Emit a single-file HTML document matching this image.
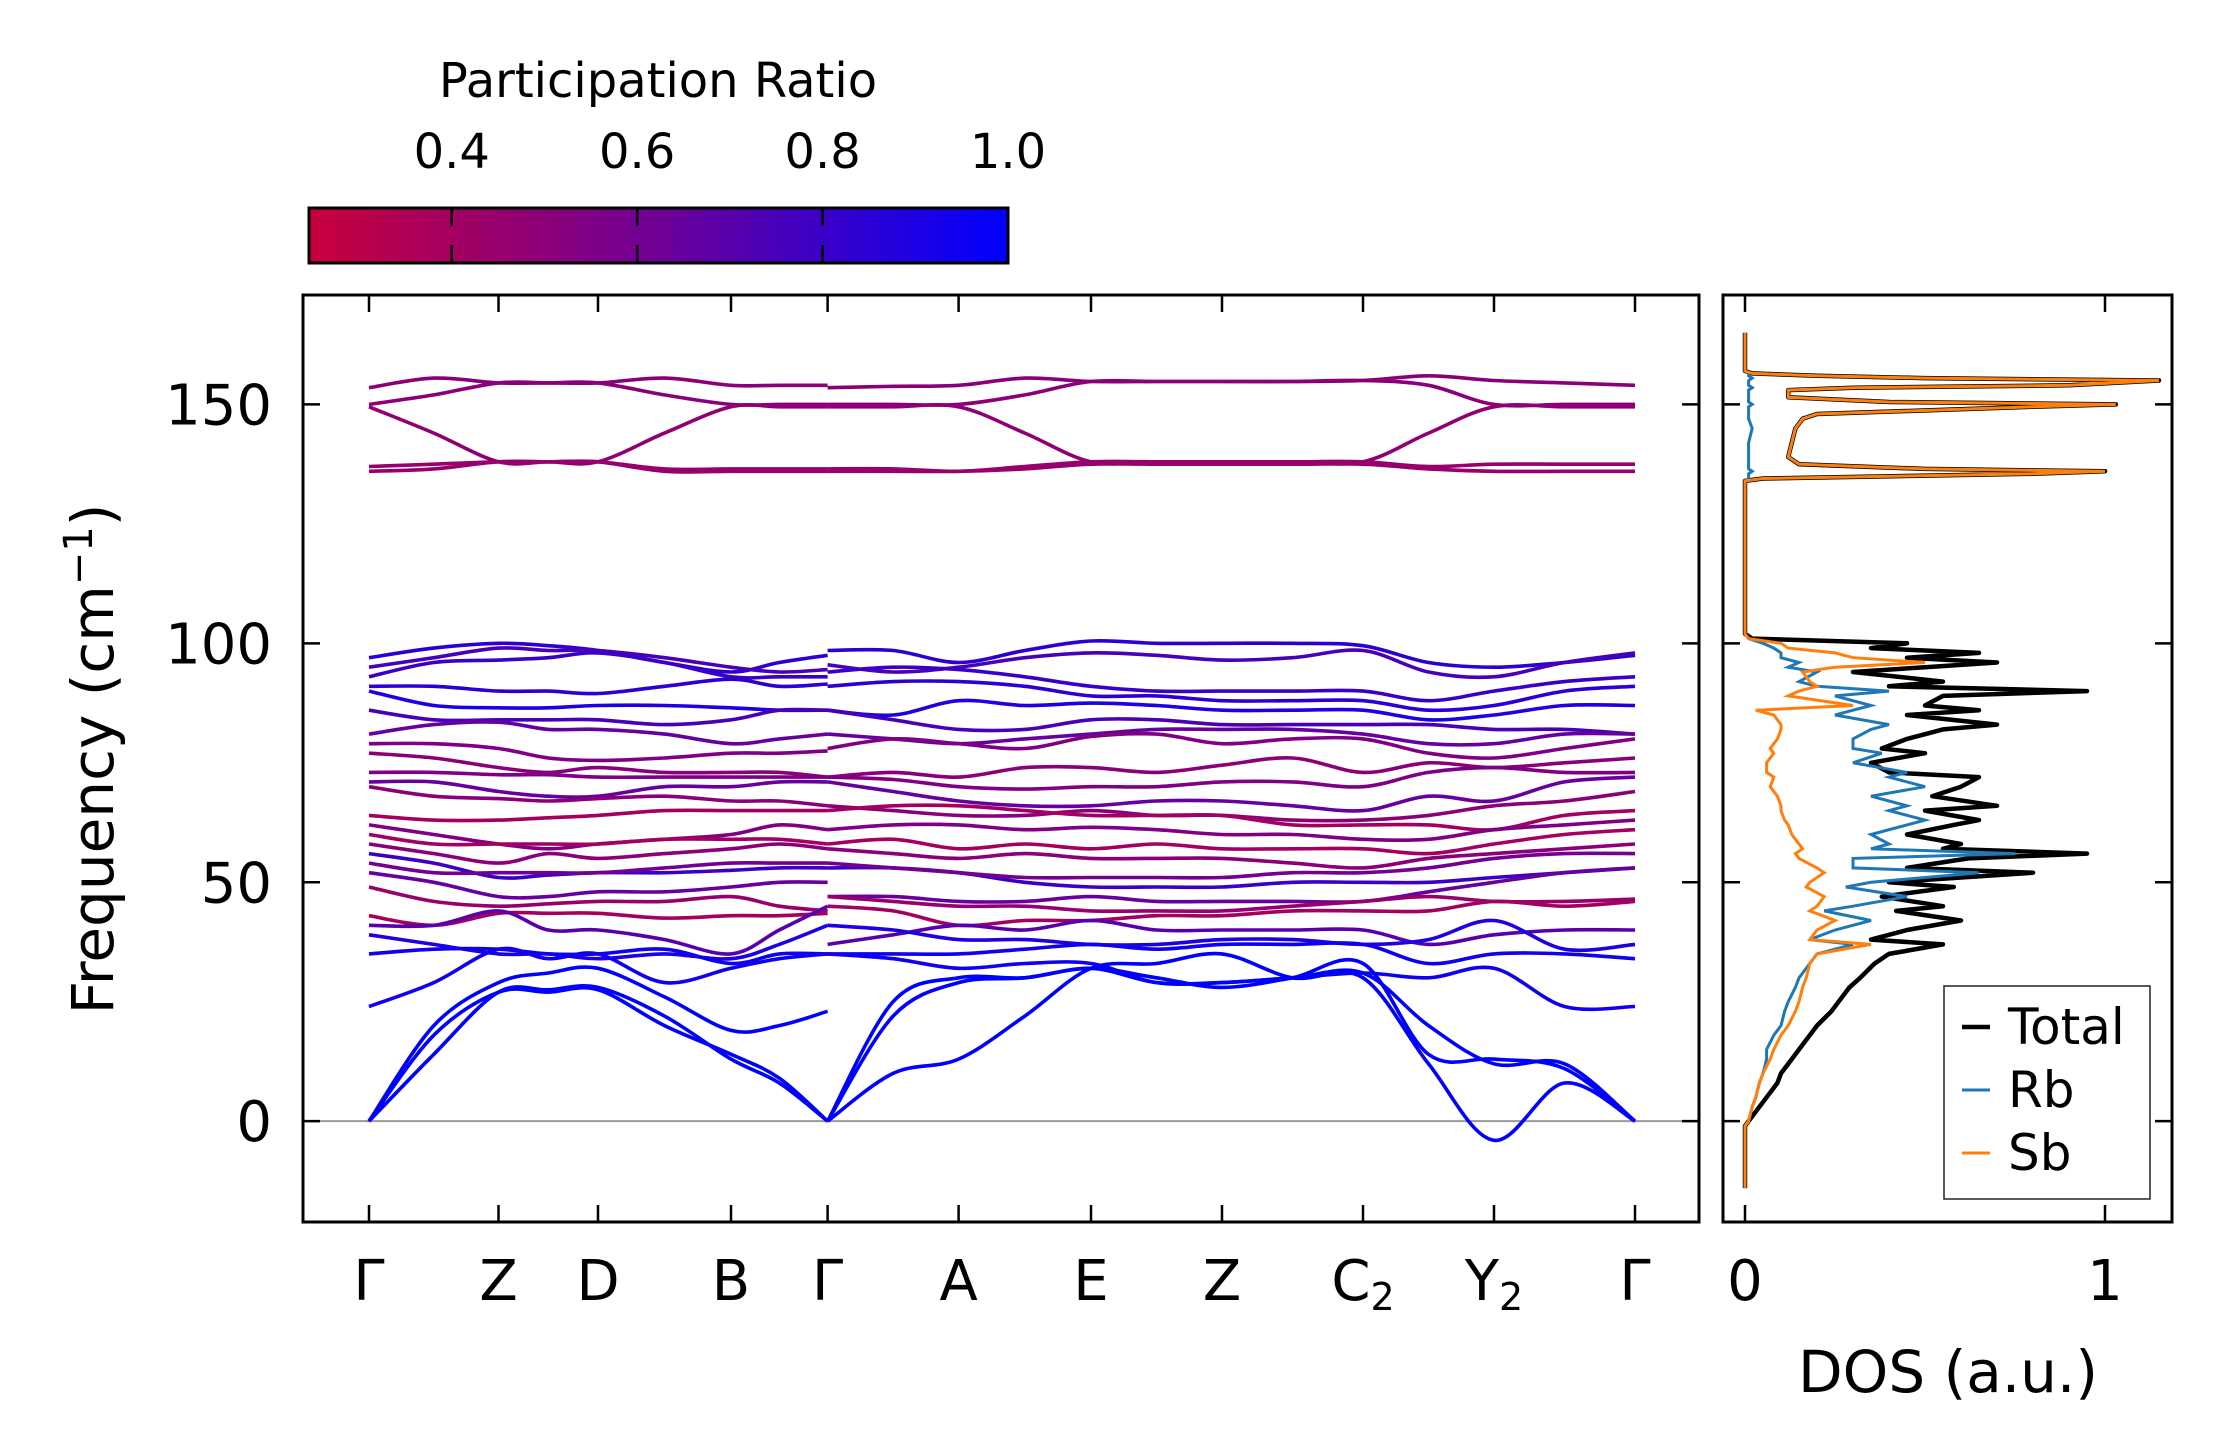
<!DOCTYPE html>
<html><head><meta charset="utf-8">
<style>
html,body{margin:0;padding:0;background:#fff;}
svg{display:block;font-family:"DejaVu Sans","Liberation Sans",sans-serif;}
</style></head>
<body>
<svg id="fig" width="2222" height="1455" viewBox="0 0 2222 1455" xmlns="http://www.w3.org/2000/svg">
<defs>
<linearGradient id="cbgrad" x1="0" x2="1" y1="0" y2="0">
<stop offset="0" stop-color="rgb(200,0,60)"/>
<stop offset="0.5" stop-color="rgb(110,0,150)"/>
<stop offset="1" stop-color="rgb(0,0,255)"/>
</linearGradient>
<clipPath id="mainclip"><rect x="303" y="295" width="1396" height="927"/></clipPath>
<clipPath id="dosclip"><rect x="1723" y="295" width="449" height="927"/></clipPath>
</defs>
<g id="colorbar">
<text x="658" y="97" font-size="48" text-anchor="middle">Participation Ratio</text>
<rect x="309" y="208" width="699" height="55" fill="url(#cbgrad)" stroke="#000" stroke-width="3"/>
</g>
<g id="main"></g>
<g id="dos"></g>
</svg>
<script>
// ---------- Colorbar data ----------
const cbTicks = [0.4, 0.6, 0.8, 1.0];
const cbMin = 0.246, cbMax = 1.0;
// ---------- Band structure data ----------
const kLabels = ["Γ","Z","D","B","Γ","A","E","Z","C₂","Y₂","Γ"];
const kTicks = [0, 1.295, 2.29, 3.62, 4.586, 5.896, 7.22, 8.53, 9.94, 11.25, 12.66];
const yTicks = [0, 50, 100, 150];
const bandSeg1 = [
[153.5,155.5,154.5,154.5,154.5,155.5,154,154,154],
[150,152,154.5,154.5,154.5,152,150,150,150],
[149.5,144,138,138,138,144,149.5,149.5,149.5],
[137,137.5,138,138,138,136.5,136.5,136.5,136.5],
[136,136.5,138,138,138,136,136,136,136],
[97,99,100,99.5,98.5,96,94,96,97.5],
[95,97,99,98.5,98.5,97,95,94,94.5],
[93,96,96.5,97,98,96,93,93,93],
[91,91,90,90,89.5,91,92.5,91,91.5],
[90,87,86.5,86.5,87,87,86.5,86,86],
[86,84,84,84,84,83,84,86,86],
[81,83,83.5,82,82,81,79,80,81],
[79,79,78,76,75.5,76,77,77,77.5],
[77,76,74,73,74,73,73,73,72],
[73,73,72.5,72.5,72,72,72,72,72],
[71,71,69,68,68,70,70,71,71],
[70,68,67.5,67,67.5,68,67,67,66],
[64,63,63,63.5,64,65,65,65,65],
[62,60,58,57,58,59,60,62,61],
[60,58,58,58,58,59,59,59,58],
[58,56,54,56,55,56,57,58,57],
[56,54,51,51.5,52,52,52.5,53,53],
[54,52,52,52,52,53,54,54,54],
[52,50,47,47,48,48,49,50,50],
[49,46,45,45.5,46,46,47,45,44],
[43,41,43.5,43.5,43.5,42.5,43,43,43.5],
[41,41,44,40,40,38,35,40,45],
[39,37,35,35,34,35,34,37,41],
[35,36,36,35,35,36,33,35,35],
[24,29,36,34,35,29,32,34,35],
[0,20,29,31,32,26,19,20,23],
[0,18,27,27,27.5,20,14,9,0],
[0,14,27,27.5,28,22,13,8,0]
];
const bandSeg2 = [
[153.5,153.8,154,155.5,154.8,154.8,154.8,154.8,155,156,155,154.5,154],
[150,150,150,152,154.8,154.8,154.8,154.8,155,154,150,150,150],
[149.5,149.5,149.5,144,138,138,138,138,138,144,149.5,149.5,149.5],
[136.5,136.5,136,137,138,138,138,138,138,137,137.5,137.5,137.5],
[136,136,136,136.5,137.5,137.5,137.5,137.5,137.5,136.5,136,136,136],
[98.5,98.5,96,98.5,100.5,100,100,100,99.5,96,95,96,97.5],
[95.5,94,95,97,98,97.5,96.5,97,98.5,94,93,96,98],
[94,95,94.5,93,91,90,90,90,90,88,90,92,93],
[91,92,92,91,89,89,88,88,88,86,87,90,91],
[86,85,88,87,87.5,87,86,86,86,84,85,87,87],
[86,84,82,82,84,84,83,83,83,83,82,82,81],
[81,80,79,80,81,82,82,82,81,79,79,81,81],
[78,80,79,78,80.5,81,79,80,80,77,76,78,80],
[72,73,72,74,74,73,74.5,76,73,75,74,75,76],
[72,71.5,70,69.5,70,70,71,71,70,73,74,73,73],
[71,69,67,66,66,67,67,66,65,68,67,71,72],
[66,65,64,64,65,64,64,63,63,64,66,67,69],
[65,66,66,65,64,64,64,62,62,62,61,64,65],
[61,62,62,61,61.5,61,60,60,59,59,61,62,63],
[58,59,57,58,57,58,57,57,57,56,58,60,61],
[57,56,55,56,55,55,55,54,53,55,56,57,58],
[53,53,52,50,49,49,49,50,50,50,51,52,53],
[54,53,52,51,51,51,51,52,52,53,55,56,56],
[47,47,46,46,47,46,46,46,46,48,50,52,53],
[47,46,45,45,44,44,44,45,46,47,46,46,46.5],
[45,44,41,42,42,43,43,44,44,44,46,45,46],
[37,39,41,40,42,40,40,40,40,37,39,40,40],
[41,40,38,38,37,37,38,38,37,38,42,36,37],
[35,35,35,36,37,36,37,37,37,33,35,35,34],
[35,34,32,33,33,29,29,30,31,30,32,24,24],
[0,25,30,30,32,29,29,30,31,20,12,12,0],
[0,10,13,22,32,33,35,30,30,12,-4,8,0],
[0,22,29,30,32,30,28,30,33,14,13,11,0]
];
const bandPR = [0.5,0.5,0.48,0.45,0.45,0.85,0.75,0.8,0.85,0.9,0.75,0.65,0.55,0.5,0.55,0.65,0.5,0.4,0.55,0.4,0.5,0.8,0.6,0.65,0.45,0.4,0.7,0.9,0.95,0.95,1,1,1];
// ---------- DOS data ----------
const dosFreq = [-14,-1,0,3,5,8,10,13,15,18,20,23,25,28,30,33,35,37,38,40,42,44,45,47,49,50,52,53,55,56,57,58,60,62,63,65,66,68,70,72,73,75,77,78,80,82,83,85,86,87,89,90,91,92,94,95,96,97,98,99,100,101,102,134,134.5,135.5,136,136.5,137.5,139,142,145,147,148,149.5,150,150.5,151.5,153,153.5,154,155,155.5,156,156.5,157,165];
const dosTotal = [0,0,0.01,0.04,0.06,0.09,0.1,0.13,0.15,0.18,0.2,0.24,0.26,0.29,0.32,0.36,0.4,0.55,0.35,0.45,0.6,0.42,0.55,0.38,0.58,0.4,0.8,0.45,0.62,0.95,0.55,0.6,0.45,0.58,0.65,0.5,0.7,0.52,0.6,0.65,0.4,0.35,0.5,0.38,0.45,0.55,0.7,0.45,0.65,0.5,0.55,0.95,0.4,0.55,0.3,0.5,0.7,0.45,0.65,0.35,0.45,0.02,0,0,0.05,0.8,1.0,0.5,0.15,0.12,0.13,0.14,0.16,0.2,0.8,1.03,0.4,0.12,0.12,0.3,0.9,1.15,0.5,0.2,0.02,0,0];
const dosRb = [0,0,0.01,0.02,0.03,0.04,0.05,0.06,0.06,0.08,0.1,0.11,0.12,0.14,0.15,0.18,0.2,0.3,0.18,0.25,0.35,0.22,0.3,0.45,0.28,0.35,0.65,0.3,0.3,0.75,0.35,0.4,0.35,0.45,0.5,0.4,0.45,0.35,0.5,0.4,0.45,0.3,0.38,0.3,0.3,0.35,0.4,0.25,0.3,0.35,0.25,0.4,0.2,0.15,0.2,0.12,0.15,0.1,0.1,0.08,0.05,0.01,0,0,0.01,0.01,0.02,0.01,0.01,0.01,0.01,0.02,0.01,0.01,0.01,0.02,0.01,0.01,0.01,0.02,0.01,0.01,0.02,0.01,0.01,0,0];
const dosSb = [0,0,0.01,0.02,0.03,0.04,0.05,0.07,0.08,0.1,0.12,0.14,0.15,0.16,0.17,0.18,0.2,0.35,0.18,0.2,0.25,0.18,0.2,0.22,0.17,0.18,0.22,0.2,0.15,0.14,0.16,0.15,0.13,0.12,0.11,0.1,0.1,0.09,0.07,0.08,0.06,0.06,0.08,0.07,0.09,0.1,0.1,0.08,0.03,0.3,0.12,0.15,0.2,0.18,0.16,0.25,0.5,0.3,0.25,0.12,0.1,0.01,0,0,0.05,0.8,1.0,0.5,0.15,0.12,0.13,0.14,0.16,0.2,0.8,1.03,0.4,0.12,0.12,0.3,0.9,1.15,0.5,0.2,0.02,0,0];
const dosXTicks = [0, 1];

// ---------- helpers ----------
const NS = "http://www.w3.org/2000/svg";
function mk(parent, tag, attrs, text){
  const e = document.createElementNS(NS, tag);
  for (const k in attrs) e.setAttribute(k, attrs[k]);
  if (text !== undefined) e.textContent = text;
  parent.appendChild(e);
  return e;
}
const yTop = 295, yBot = 1222, yMin = -21.1, yMax = 172.9;
function yS(v){ return yBot - (v - yMin) / (yMax - yMin) * (yBot - yTop); }
function kX(k){ return 369 + k * 100; }
function dX(v){ return 1745 + v * 360; }
function cbX(v){ return 309 + (v - cbMin) / (cbMax - cbMin) * 699; }
function prColor(t){
  const f = Math.max(0, Math.min(1, (t - cbMin) / (cbMax - cbMin)));
  let r, b;
  if (f < 0.5){ r = 200 + (110-200)*f*2; b = 60 + (150-60)*f*2; }
  else { r = 110*(1-(f-0.5)*2); b = 150 + (255-150)*(f-0.5)*2; }
  return `rgb(${Math.round(r)},0,${Math.round(b)})`;
}
function smoothPath(pts){
  let d = `M${pts[0][0].toFixed(1)},${pts[0][1].toFixed(1)}`;
  for (let i = 0; i < pts.length - 1; i++){
    const p0 = pts[Math.max(0,i-1)], p1 = pts[i], p2 = pts[i+1], p3 = pts[Math.min(pts.length-1,i+2)];
    const c1x = p1[0] + (p2[0]-p0[0])/6, c1y = p1[1] + (p2[1]-p0[1])/6;
    const c2x = p2[0] - (p3[0]-p1[0])/6, c2y = p2[1] - (p3[1]-p1[1])/6;
    d += ` C${c1x.toFixed(1)},${c1y.toFixed(1)} ${c2x.toFixed(1)},${c2y.toFixed(1)} ${p2[0].toFixed(1)},${p2[1].toFixed(1)}`;
  }
  return d;
}
function knotK(segStart, segEnd){
  const ks = [];
  for (let i = segStart; i < segEnd; i++){ ks.push(kTicks[i]); ks.push((kTicks[i]+kTicks[i+1])/2); }
  ks.push(kTicks[segEnd]);
  return ks;
}

// ---------- colorbar ticks ----------
const cb = document.getElementById('colorbar');
cbTicks.forEach(v => {
  const x = cbX(v);
  if (v < 1){
    const t1 = mk(cb,'line',{x1:x,x2:x,y1:208,y2:226,stroke:'#000','stroke-width':2.5});
    
    
    const t2 = mk(cb,'line',{x1:x,x2:x,y1:245,y2:263,stroke:'#000','stroke-width':2.5});
    
    
  }
  const lb = mk(cb,'text',{x:x,y:168,'font-size':48,'text-anchor':'middle'}, v.toFixed(1));
  
  
});

// ---------- main panel ----------
const g = document.getElementById('main');
const zl = mk(g,'line',{x1:303,x2:1699,y1:yS(0),y2:yS(0),stroke:'#999','stroke-width':2});


const bandsG = mk(g,'g',{'clip-path':'url(#mainclip)'});


const k1 = knotK(0,4), k2 = knotK(4,10);
for (let b = 0; b < bandSeg1.length; b++){
  const col = prColor(bandPR[b]);
  const p1 = bandSeg1[b].map((v,i)=>[kX(k1[i]), yS(v)]);
  const e1 = mk(bandsG,'path',{d:smoothPath(p1),fill:'none',stroke:col,'stroke-width':3.6});
  
  
  const p2 = bandSeg2[b].map((v,i)=>[kX(k2[i]), yS(v)]);
  const e2 = mk(bandsG,'path',{d:smoothPath(p2),fill:'none',stroke:col,'stroke-width':3.6});
  
  
}
const frame = mk(g,'rect',{x:303,y:295,width:1396,height:927,fill:'none',stroke:'#000','stroke-width':3});


yTicks.forEach(v => {
  const y = yS(v);
  const t = mk(g,'path',{d:`M303,${y}h17M1699,${y}h-17`,stroke:'#000','stroke-width':2.5});
  
  
  const l = mk(g,'text',{x:272,y:y+20,'font-size':56,'text-anchor':'end'}, String(v));
  
  
});
kTicks.forEach((k,i) => {
  const x = kX(k);
  const t = mk(g,'path',{d:`M${x},295v17M${x},1222v-17`,stroke:'#000','stroke-width':2.5});
  
  
  const lab = kLabels[i];
  const l = mk(g,'text',{x:x,y:1300,'font-size':56,'text-anchor':'middle'});
  
  
  if (lab.length > 1){
    l.textContent = lab[0];
    mk(l,'tspan',{'font-size':38,dy:10}, lab[1]==='₂' ? '2' : lab[1]);
  } else l.textContent = lab;
});
const yt = mk(g,'text',{x:0,y:0,'font-size':58,'text-anchor':'middle',transform:'translate(113,759) rotate(-90)'});


yt.appendChild(document.createTextNode('Frequency (cm'));
mk(yt,'tspan',{'font-size':40,dy:-21},'−1');
mk(yt,'tspan',{dy:21},')');

// ---------- DOS panel ----------
const dg = document.getElementById('dos');
const dosLines = mk(dg,'g',{'clip-path':'url(#dosclip)'});


function dosPath(vals){
  return vals.map((v,i)=>`${i?'L':'M'}${dX(v).toFixed(1)},${yS(dosFreq[i]).toFixed(1)}`).join('');
}
const ptot = mk(dosLines,'path',{d:dosPath(dosTotal),fill:'none',stroke:'#000','stroke-width':4.5,'stroke-linejoin':'round'});


const prb = mk(dosLines,'path',{d:dosPath(dosRb),fill:'none',stroke:'#1f77b4','stroke-width':3});


const psb = mk(dosLines,'path',{d:dosPath(dosSb),fill:'none',stroke:'#ff7f0e','stroke-width':3});


const dframe = mk(dg,'rect',{x:1723,y:295,width:449,height:927,fill:'none',stroke:'#000','stroke-width':3});


yTicks.forEach(v => {
  const y = yS(v);
  const t = mk(dg,'path',{d:`M1723,${y}h17M2172,${y}h-17`,stroke:'#000','stroke-width':2.5});
  
  
});
dosXTicks.forEach(v => {
  const x = dX(v);
  const t = mk(dg,'path',{d:`M${x},295v17M${x},1222v-17`,stroke:'#000','stroke-width':2.5});
  
  
  const l = mk(dg,'text',{x:x,y:1300,'font-size':56,'text-anchor':'middle'}, String(v));
  
  
});
const dt = mk(dg,'text',{x:1948,y:1392,'font-size':58,'text-anchor':'middle'},'DOS (a.u.)');


// legend
const lg = mk(dg,'g',{});


mk(lg,'rect',{x:1944,y:986,width:206,height:213,fill:'#fff',stroke:'#222','stroke-width':1.5});
const legNames = ['Total','Rb','Sb'];
const legCols = ['#000','#1f77b4','#ff7f0e'];
legNames.forEach((n,i)=>{
  const y = 1027 + i*63;
  const ln = mk(lg,'line',{x1:1962,x2:1990,y1:y,y2:y,stroke:legCols[i],'stroke-width':i?3:4.5});
  
  
  const tx = mk(lg,'text',{x:2008,y:y+17,'font-size':50},n);
  
  
});
</script>
</body></html>
